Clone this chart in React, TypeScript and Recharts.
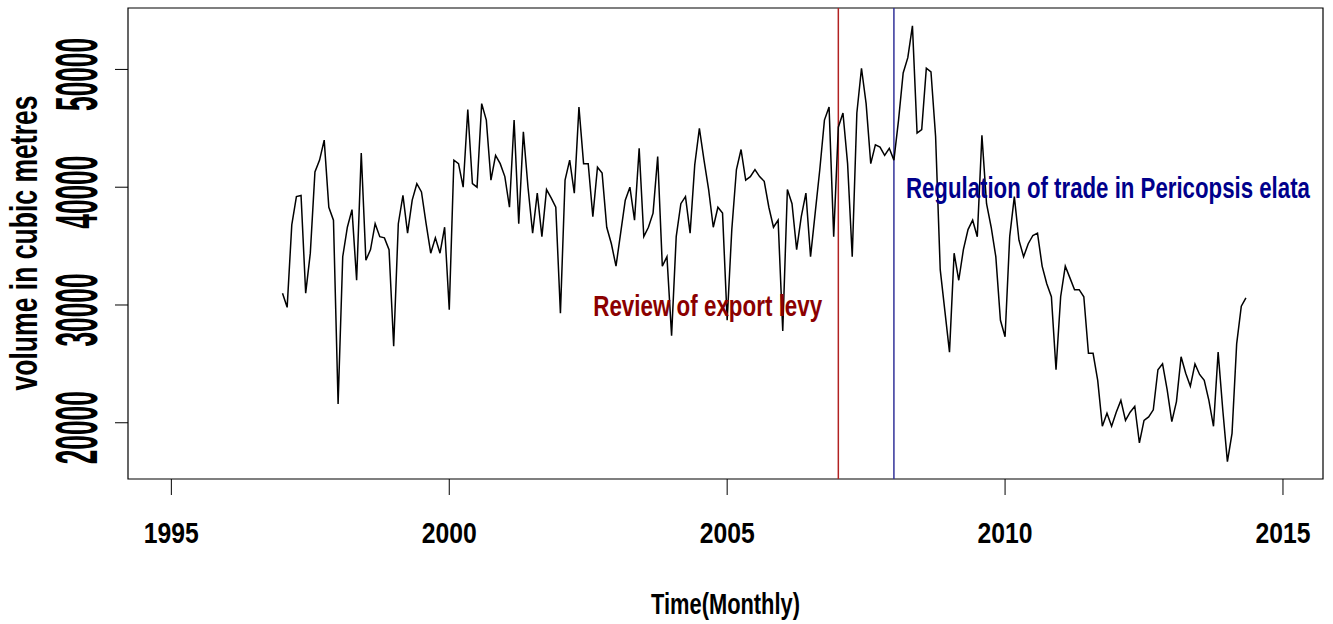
import React from 'react';
import { LineChart, Line, XAxis, YAxis, ReferenceLine, ReferenceArea, ReferenceDot } from 'recharts';

// monthly export volume, Jan 1997 .. May 2014
const START_YEAR = 1997;
const volume = [
  31000, 29800, 36800, 39200, 39300, 31000, 34400, 41300, 42300, 44000, 38300, 37200, // 1997
  21600, 34100, 36600, 38100, 32100, 42900, 33800, 34700, 36900, 35800, 35700, 34700, // 1998
  26500, 36900, 39300, 36100, 38900, 40300, 39600, 36900, 34400, 35700, 34400, 36600, // 1999
  29600, 42300, 42000, 40000, 46600, 40300, 40000, 47100, 45700, 40600, 42700, 42000, // 2000
  40900, 38300, 45700, 36900, 44700, 40000, 36100, 39500, 35800, 39800, 39100, 38300, // 2001
  29300, 40600, 42300, 39500, 46800, 42000, 42000, 37500, 41700, 41200, 36600, 35200, // 2002
  33300, 36100, 38900, 40000, 37200, 43300, 35800, 36600, 37800, 42600, 33300, 34100, // 2003
  27400, 35800, 38600, 39200, 36100, 41900, 45000, 42300, 39800, 36600, 38300, 37800, // 2004
  28700, 36400, 41500, 43200, 40600, 40900, 41500, 40900, 40500, 38300, 36600, 37200, // 2005
  27800, 39800, 38600, 34700, 37500, 39500, 34100, 37800, 41500, 45700, 46800, 35800, // 2006
  45100, 46300, 42000, 34100, 46300, 50100, 47100, 42000, 43600, 43400, 42700, 43300, // 2007
  42300, 45700, 49700, 51000, 53700, 44600, 44900, 50100, 49800, 44300, 33000, 29500, // 2008
  26000, 34400, 32100, 34700, 36400, 37200, 35800, 44400, 38600, 36600, 34100, 28700, // 2009
  27300, 35800, 39200, 35500, 34100, 35200, 35900, 36100, 33300, 31800, 30700, 24500, // 2010
  30700, 33300, 32300, 31300, 31300, 30700, 25900, 25900, 23600, 19700, 20800, 19700, // 2011
  20900, 21900, 20200, 20900, 21400, 18300, 20200, 20500, 21100, 24500, 25000, 22800, // 2012
  20100, 21800, 25600, 24200, 23100, 25000, 24100, 23600, 21900, 19700, 26000, 21100, // 2013
  16700, 19100, 26700, 29900, 30600, // 2014
];

const xTicks = [1995, 2000, 2005, 2010, 2015];
const yTicks = [20000, 30000, 40000, 50000];
const X_DOMAIN = [1994.22, 2015.72];
const Y_DOMAIN = [15225, 55216];

const data = volume.map((v, i) => ({ t: START_YEAR + i / 12, v }));

const FONT = '"Liberation Sans", Arial, sans-serif';

const XTick = (props: any) => {
  const { x, payload } = props;
  return (
    <text x={x} y={543} textAnchor="middle" fontFamily={FONT} fontWeight="bold" fontSize={29}
      textLength={55} lengthAdjust="spacingAndGlyphs" fill="#000">
      {payload.value}
    </text>
  );
};

const YTick = (props: any) => {
  const { y, payload } = props;
  return (
    <g transform={`translate(97, ${y + 5}) scale(2.02, 1) rotate(-90)`}>
      <text x={0} y={0} textAnchor="middle" fontFamily={FONT} fontWeight="bold" fontSize={29}
        textLength={73} lengthAdjust="spacingAndGlyphs" fill="#000">
        {payload.value}
      </text>
    </g>
  );
};

const YTitle = () => (
  <g transform="translate(37, 243) scale(1.4, 1) rotate(-90)">
    <text x={0} y={0} textAnchor="middle" fontFamily={FONT} fontWeight="bold" fontSize={28}
      textLength={295} lengthAdjust="spacingAndGlyphs" fill="#000">
      volume in cubic metres
    </text>
  </g>
);

const XTitle = () => (
  <text x={725.5} y={614} textAnchor="middle" fontFamily={FONT} fontWeight="bold" fontSize={29}
    textLength={149} lengthAdjust="spacingAndGlyphs" fill="#000">
    Time(Monthly)
  </text>
);

// annotation text, squeezed horizontally like the original
const Note = (props: any) => {
  const { viewBox, text, color, len } = props;
  const cx = viewBox.x + (viewBox.width || 0) / 2;
  const cy = viewBox.y + (viewBox.height || 0) / 2;
  const sx = 0.74;
  return (
    <g transform={`translate(${cx}, ${cy + 11}) scale(${sx}, 1)`}>
      <text x={0} y={0} textAnchor="middle" fontFamily={FONT} fontWeight="bold" fontSize={30}
        textLength={len / sx} lengthAdjust="spacingAndGlyphs" fill={color}>
        {text}
      </text>
    </g>
  );
};

export default function App() {
  return (
    <div style={{ position: 'absolute', left: 0, top: 0, background: '#fff' }}>
      <LineChart width={1333} height={624} data={data} margin={{ top: 8, right: 10, left: 0, bottom: 0 }}>
        <XAxis type="number" dataKey="t" domain={X_DOMAIN} ticks={xTicks} allowDataOverflow
          axisLine={false} tickSize={16} stroke="#000" height={145} tick={<XTick />} label={<XTitle />} />
        <YAxis type="number" domain={Y_DOMAIN} ticks={yTicks} allowDataOverflow
          axisLine={false} tickSize={13} stroke="#000" width={128} tick={<YTick />} label={<YTitle />} />
        <ReferenceArea x1={X_DOMAIN[0]} x2={X_DOMAIN[1]} y1={Y_DOMAIN[0]} y2={Y_DOMAIN[1]}
          fill="none" stroke="#000" strokeWidth={1.2} fillOpacity={0} />
        <ReferenceLine x={2007} stroke="#B22222" strokeWidth={1.5} />
        <ReferenceLine x={2008} stroke="#333399" strokeWidth={1.5} />
        <Line type="linear" dataKey="v" stroke="#000" strokeWidth={1.5} dot={false} isAnimationActive={false} />
        <ReferenceDot x={2004.65} y={30000} r={0} fill="none" stroke="none"
          label={<Note text="Review of export levy" color="#8B0000" len={229} />} />
        <ReferenceDot x={2011.85} y={40000} r={0} fill="none" stroke="none"
          label={<Note text="Regulation of trade in Pericopsis elata" color="#00008B" len={404} />} />
      </LineChart>
    </div>
  );
}
